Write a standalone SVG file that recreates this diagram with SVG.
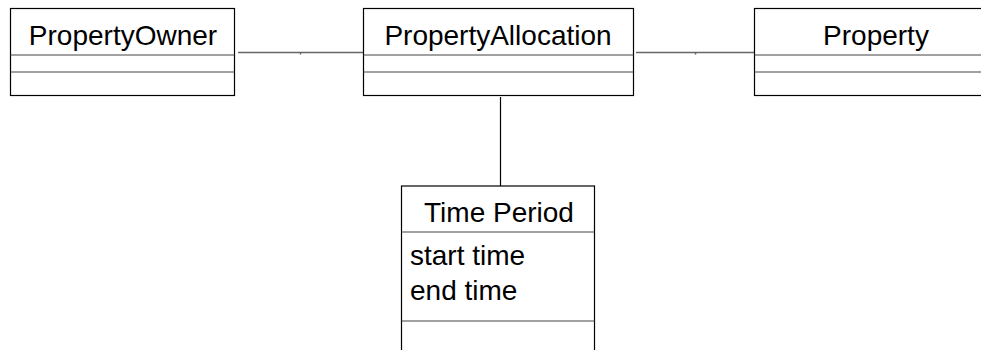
<svg xmlns="http://www.w3.org/2000/svg" width="981" height="350" viewBox="0 0 981 350">
<style>
.box{fill:#fff;stroke:#000;stroke-width:1.2}
.sep{stroke:#444;stroke-width:1.2}
.t{font-family:"Liberation Sans",Arial,sans-serif;font-size:28px;fill:#000}
.c{stroke:#666;stroke-width:1.5;fill:none}
</style>
<rect width="981" height="350" fill="#fff"/>
<g id="connectors">
<line class="c" x1="238" y1="52.5" x2="363" y2="52.5"/>
<line class="c" x1="300.5" y1="52" x2="300.5" y2="54.5"/>
<line class="c" x1="636" y1="52.5" x2="755" y2="52.5"/>
<line class="c" x1="695.5" y1="52" x2="695.5" y2="54.5"/>
<line x1="500.5" y1="97" x2="500.5" y2="186" stroke="#000" stroke-width="1.2"/>
</g>
<g id="PropertyOwner">
<rect class="box" x="10.5" y="8.5" width="224" height="87"/>
<line class="sep" x1="10.5" y1="55" x2="234.5" y2="55"/>
<line class="sep" x1="10.5" y1="72" x2="234.5" y2="72"/>
<text class="t" x="123" y="45" text-anchor="middle">PropertyOwner</text>
</g>
<g id="PropertyAllocation">
<rect class="box" x="363.5" y="8.5" width="270" height="87"/>
<line class="sep" x1="363.5" y1="55" x2="633.5" y2="55"/>
<line class="sep" x1="363.5" y1="72" x2="633.5" y2="72"/>
<text class="t" x="498" y="45" text-anchor="middle">PropertyAllocation</text>
</g>
<g id="Property">
<rect class="box" x="754.5" y="8.5" width="240" height="87"/>
<line class="sep" x1="754.5" y1="55" x2="981" y2="55"/>
<line class="sep" x1="754.5" y1="72" x2="981" y2="72"/>
<text class="t" x="876" y="45" text-anchor="middle">Property</text>
</g>
<g id="TimePeriod">
<rect class="box" x="401.5" y="186" width="193" height="180"/>
<line class="sep" x1="401.5" y1="232" x2="594.5" y2="232"/>
<line class="sep" x1="401.5" y1="321" x2="594.5" y2="321"/>
<text class="t" x="499" y="222" text-anchor="middle">Time Period</text>
<text class="t" x="410" y="265">start time</text>
<text class="t" x="410" y="300">end time</text>
</g>
</svg>
